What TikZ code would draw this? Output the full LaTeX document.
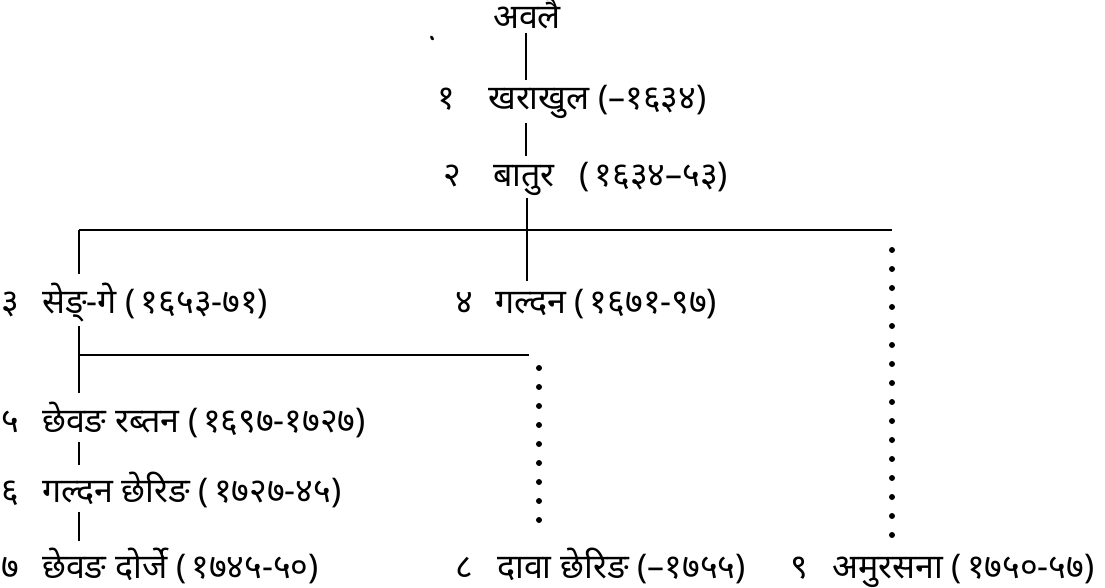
\documentclass[tikz,border=0pt]{standalone}
\usepackage{fontspec}
\newfontfamily\dev[Script=Devanagari]{Noto Sans}
\tikzset{
  lbl/.style={font=\dev\fontsize{34}{40}\selectfont, inner sep=0pt, anchor=base west},
  conn/.style={line width=1.5pt},
  dotline/.style={line width=6pt, line cap=round, dash pattern=on 0pt off 19pt},
}
\newcommand{\ps}{\hspace{5pt}}
\begin{document}
\begin{tikzpicture}[x=1pt,y=-1pt]
\useasboundingbox (0,0) rectangle (1105,588);
% stray speck
\fill[rotate around={-60:(432,38)}] (432,38) ellipse (2.6pt and 1.5pt);
% nodes
\node[lbl,anchor=base] (n0) at (527,29) {अवलै};
\node[lbl] (k1) at (437,110) {१};
\node[lbl] (n1) at (488,110) {खराखुल (–१६३४)};
\node[lbl] (k2) at (443,186) {२};
\node[lbl] (n2) at (493,186) {बातुर\hspace{16pt} (\ps१६३४–५३)};
\node[lbl] (k3) at (1,313) {३};
\node[lbl] (n3) at (42,313) {सेङ्-गे (\ps१६५३-७१)};
\node[lbl] (k4) at (455,313) {४};
\node[lbl] (n4) at (495,313) {गल्दन (\ps१६७१-९७)};
\node[lbl] (k5) at (1,432) {५};
\node[lbl] (n5) at (42,432) {छेवङ रब्तन (\ps१६९७-१७२७)};
\node[lbl] (k6) at (1,502) {६};
\node[lbl] (n6) at (42,502) {गल्दन छेरिङ (\ps१७२७-४५)};
\node[lbl] (k7) at (1,578) {७};
\node[lbl] (n7) at (42,578) {छेवङ दोर्जे (\ps१७४५-५०)};
\node[lbl] (k8) at (455,578) {८};
\node[lbl] (n8) at (497,578) {दावा छेरिङ (–१७५५)};
\node[lbl] (k9) at (790,578) {९};
\node[lbl] (n9) at (832,578) {अमुरसना (\ps१७५०-५७)};
% junctions
\coordinate (cx) at (526,0);
\coordinate (jl) at (79,230);
\coordinate (jm) at (527,230);
\coordinate (jr) at (892,230);
\coordinate (kl) at (79,355);
\coordinate (km) at (529,355);
\coordinate (kr) at (539,355);
% connectors
\draw[conn,shorten <=3pt,shorten >=6pt] (n0.south -| cx) -- (n1.north -| cx);
\draw[conn,shorten <=4pt,shorten >=6pt] (n1.south -| cx) -- (n2.north -| cx);
\draw[conn,shorten <=3pt,shorten >=8pt] (n2.south -| jm) -- (n4.north -| jm);
\draw[conn] (jl) -- (jr);
\draw[conn,shorten >=8pt] (jl) -- (jl |- n3.north);
\draw[dotline] ([yshift=-20pt]jr) -- ([yshift=10pt]jr |- n9.north);
\draw[conn,shorten <=4pt,shorten >=8pt] (n3.south -| kl) -- (n5.north -| kl);
\draw[conn] (kl) -- (km);
\draw[dotline] ([yshift=-13pt]kr) -- ([yshift=10pt]kr |- n8.north);
\draw[conn,shorten <=4pt,shorten >=6pt] (n5.south -| kl) -- (n6.north -| kl);
\draw[conn,shorten <=4pt,shorten >=6pt] (n6.south -| kl) -- (n7.north -| kl);
\end{tikzpicture}
\end{document}
